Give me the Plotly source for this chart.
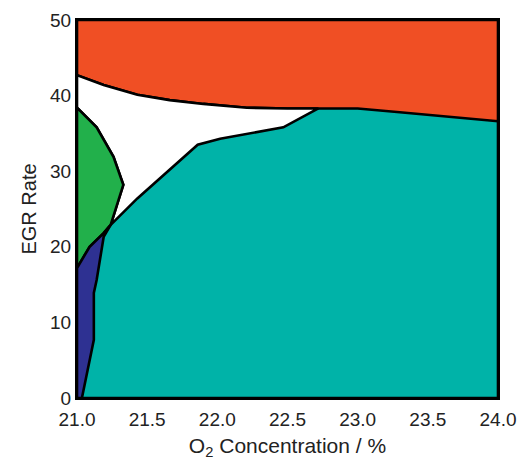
import plotly.graph_objects as go

# Region boundaries (O2 concentration %, EGR rate)
top_x = [21.0, 21.19, 21.43, 21.66, 21.9, 22.21, 22.5, 22.72]
top_y = [42.7, 41.4, 40.1, 39.4, 38.9, 38.4, 38.3, 38.3]

red_teal_x = [22.72, 23.0, 23.3, 23.66, 24.0]
red_teal_y = [38.3, 38.3, 37.8, 37.2, 36.6]

white_teal_x = [22.72, 22.47, 22.02, 21.86, 21.43, 21.24]
white_teal_y = [38.3, 35.8, 34.3, 33.5, 26.4, 22.9]

green_white_x = [21.0, 21.14, 21.26, 21.33, 21.24]
green_white_y = [38.4, 35.8, 31.9, 28.2, 22.9]

green_blue_x = [21.24, 21.19, 21.09, 21.0]
green_blue_y = [22.9, 21.8, 20.0, 17.2]

blue_teal_x = [21.24, 21.19, 21.14, 21.12, 21.12, 21.06, 21.035]
blue_teal_y = [22.9, 21.3, 15.6, 13.9, 7.7, 2.4, 0.0]

x_range = [21.0, 24.0]
y_range = [0, 50]
x_ticks = [21.0, 21.5, 22.0, 22.5, 23.0, 23.5, 24.0]
y_ticks = [0, 10, 20, 30, 40, 50]

RED = "#F04F24"
TEAL = "#00B3A8"
GREEN = "#22B04B"
BLUE = "#2E3192"
WHITE = "#FFFFFF"

# polygons built from boundaries
teal_x = [x_range[0], x_range[1], x_range[1], x_range[0], x_range[0]]
teal_y = [y_range[0], y_range[0], y_range[1], y_range[1], y_range[0]]

red_x = top_x + red_teal_x[1:] + [x_range[1], x_range[0], top_x[0]]
red_y = top_y + red_teal_y[1:] + [y_range[1], y_range[1], top_y[0]]

white_x = top_x + white_teal_x[1:] + green_white_x[::-1][1:] + [top_x[0]]
white_y = top_y + white_teal_y[1:] + green_white_y[::-1][1:] + [top_y[0]]

green_x = green_white_x + green_blue_x[1:] + [green_white_x[0]]
green_y = green_white_y + green_blue_y[1:] + [green_white_y[0]]

blue_x = blue_teal_x + [x_range[0]] + green_blue_x[::-1]
blue_y = blue_teal_y + [y_range[0]] + green_blue_y[::-1]

fig = go.Figure()
for xs, ys, col in [(teal_x, teal_y, TEAL), (red_x, red_y, RED), (white_x, white_y, WHITE),
                    (green_x, green_y, GREEN), (blue_x, blue_y, BLUE)]:
    fig.add_trace(go.Scatter(x=xs, y=ys, fill="toself", fillcolor=col, mode="lines",
                             line=dict(color="black", width=2.6), hoverinfo="skip",
                             showlegend=False))

font_family = "Liberation Sans, Arial, sans-serif"
fig.update_layout(
    width=529, height=460,
    margin=dict(l=77, r=31, t=20, b=62),
    paper_bgcolor="white", plot_bgcolor="white",
    font=dict(family=font_family, color="#222222", size=19),
)
fig.update_xaxes(range=x_range, tickvals=x_ticks, ticktext=[f"{v:.1f}" for v in x_ticks],
                 showgrid=False, zeroline=False, showline=True, linecolor="black", linewidth=2,
                 mirror=True, ticks="", tickfont=dict(size=19), ticklabelstandoff=3,
                 automargin=False,
                 title=dict(text="O<sub>2</sub> Concentration / %", font=dict(size=21), standoff=10))
fig.update_yaxes(range=y_range, tickvals=y_ticks, showgrid=False, zeroline=False, showline=True,
                 linecolor="black", linewidth=2, mirror=True, ticks="", tickfont=dict(size=19),
                 automargin=False,
                 title=dict(text="EGR Rate", font=dict(size=20), standoff=8))

fig.write_html("out.html")
